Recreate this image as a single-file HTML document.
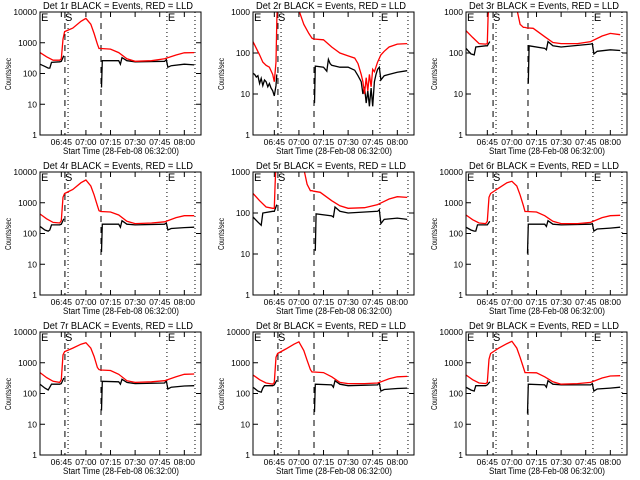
<!DOCTYPE html>
<html><head><meta charset="utf-8"><style>
html,body{margin:0;padding:0;background:#fff;}
svg{display:block;font-family:"Liberation Sans",sans-serif;}
</style></head><body>
<svg id="chart" width="640" height="480" viewBox="0 0 640 480" xmlns="http://www.w3.org/2000/svg"></svg>
<script>
// ---- data (time in minutes after 06:32) ----
const detNames = ["1r","2r","3r","4r","5r","6r","7r","8r","9r"];
const yMaxDecades = [4,3,3,4,3,4,4,4,4];
const xTickMinutes = [13,28,43,58,73,88];
const xTickLabels = ["06:45","07:00","07:15","07:30","07:45","08:00"];
const yTickLabels = ["1","10","100","1000","10000"];

const stdBlackT = [0,3,5,6,7,12,13,14.5,null,37.5,38,48,49,50,53,58,76,77,78,80,88,94];
const stdRedT = [0,4,8,12,13,14,15,20,25,28,31,33,35,36,37,43,48,53,58,68,76,83,88,94];
const midBlackT = [0,3,5,6,12,13,14.5,null,38,38.5,48,49,50,53,58,76,77,78,80,88,94];
const midRedT = [0,4,8,12,13,13.5,14,null,31,33,35,36,37,41,48,53,58,68,76,83,88,94];
const p2BlackT = [0,1,2,3,4,5,6,7,8,9,10,11,12,13,14,14.5,null,37.5,38,43,45,46,47,48,53,58,62,64,66,67,68,69,70,71,72,73,74,75,76,77,78,80,83,88,94];
const p2RedT = [0,2,4,6,8,10,12,13,14,14.5,15,null,28,31,34,36,37,43,48,53,58,62,64,66,67,68,69,70,71,72,73,74,76,78,80,83,88,94];

const p1Black = [200,170,150,150,230,240,250,380,null,35,260,260,200,330,260,240,250,280,160,180,200,190];
const p1Red = [480,350,270,270,300,1300,2300,3000,5000,6200,4000,2000,900,650,650,620,480,300,250,260,300,400,470,480];
const p2Black = [32,30,26,28,18,24,16,22,20,15,18,14,12,9,16,30,null,6,48,45,36,70,55,50,45,45,38,28,20,10,15,6,12,5,14,5,20,30,40,45,22,28,30,34,37];
const p2Red = [190,130,90,60,50,45,30,20,60,600,2000,null,1100,500,300,230,220,210,140,100,85,75,55,30,20,10,25,12,30,15,40,35,60,90,110,140,165,170];
const p3Black = [130,95,90,140,150,150,190,null,18,150,130,120,190,150,140,165,170,95,110,120,115];
const p3Red = [350,240,170,165,170,800,1500,null,1200,500,420,420,410,400,250,180,170,170,190,260,300,280];
const p4Black = [170,130,120,130,190,190,200,300,null,25,200,200,160,260,200,190,200,220,130,145,155,160];
const p4Red = [430,300,230,220,260,1500,2000,2700,4500,5500,3500,1800,800,550,520,500,400,250,210,220,240,330,380,380];
const p5Black = [80,60,50,100,110,110,160,null,12,95,85,80,140,110,100,110,120,55,70,75,70];
const p5Red = [300,200,140,130,130,500,1500,null,1200,500,350,350,340,320,200,150,130,135,160,220,250,240];
const p6Black = [160,130,120,120,190,190,190,250,null,22,200,200,170,260,200,190,200,210,120,140,150,160];
const p6Red = [400,280,220,210,250,1500,2000,3000,4500,5000,3500,1800,800,520,520,500,380,250,210,210,230,330,380,390];
const p7Black = [200,150,130,160,200,200,210,320,null,28,250,240,200,290,230,210,220,260,140,160,175,180];
const p7Red = [480,330,250,230,280,1800,2300,3000,4000,4500,3000,1600,700,600,580,560,420,260,230,240,260,350,420,430];
const p8Black = [160,120,110,150,180,180,190,270,null,25,200,190,160,260,200,180,190,220,120,135,145,150];
const p8Red = [400,280,220,200,230,1500,2000,2800,4000,4800,2500,1200,600,500,500,480,350,230,210,210,220,300,350,360];
const p9Black = [160,130,120,180,180,180,190,240,null,22,200,190,160,260,200,190,190,210,120,140,150,160];
const p9Red = [400,280,220,210,230,1300,2000,3000,4200,5000,3000,1500,700,480,480,470,350,240,200,210,230,320,370,380];

const leftMarks = [15.2,17.1,37.2,77.4,94.5];
const rightMarks = [16.5,18.3,37.8,77.4,95.1];

const blackT = [stdBlackT,p2BlackT,midBlackT,stdBlackT,midBlackT,stdBlackT,stdBlackT,stdBlackT,stdBlackT];
const redT = [stdRedT,p2RedT,midRedT,stdRedT,midRedT,stdRedT,stdRedT,stdRedT,stdRedT];
const blackV = [p1Black,p2Black,p3Black,p4Black,p5Black,p6Black,p7Black,p8Black,p9Black];
const redV = [p1Red,p2Red,p3Red,p4Red,p5Red,p6Red,p7Red,p8Red,p9Red];

const NS = "http://www.w3.org/2000/svg";
const svg = document.getElementById("chart");
function mk(tag, attrs, parent){const e=document.createElementNS(NS,tag);for(const k in attrs)e.setAttribute(k,attrs[k]);(parent||svg).appendChild(e);return e;}

const BX0=40, BX1=201, BY0=12, BY1=135, PXMIN=1.64;
for(let i=0;i<9;i++){
  const col=i%3,row=Math.floor(i/3);
  const ox=col*213+(col===2?0:0), oy=row*160;
  const g=mk("g",{transform:`translate(${ox},${oy})`});
  
  
  const dec=yMaxDecades[i];
  const xs=t=>BX0+t*PXMIN;
  const ys=v=>BY1-(Math.log10(v)/dec)*(BY1-BY0);
  // clip
  const cp=mk("clipPath",{id:"clip"+i},g);
  mk("rect",{x:BX0,y:BY0,width:BX1-BX0,height:BY1-BY0},cp);
  // title
  const tt=mk("text",{x:118,y:9,"text-anchor":"middle","font-size":"10",textLength:150,lengthAdjust:"spacingAndGlyphs"},g);
  tt.textContent="Det "+detNames[i]+" BLACK = Events, RED = LLD";
  
  
  // y ticks
  for(let d=0;d<=dec;d++){
    const y=ys(Math.pow(10,d));
    mk("line",{x1:BX0,x2:BX0+5,y1:y,y2:y,stroke:"#000","stroke-width":1},g);
    mk("line",{x1:BX1-5,x2:BX1,y1:y,y2:y,stroke:"#000","stroke-width":1},g);
    const yl=mk("text",{x:37,y:y+3,"text-anchor":"end","font-size":"8.5"},g);
    yl.textContent=yTickLabels[d];
    
    
  }
  // x ticks
  xTickMinutes.forEach((t,k)=>{
    const x=xs(t);
    mk("line",{x1:x,x2:x,y1:BY1,y2:BY1-5,stroke:"#000","stroke-width":1},g);
    mk("line",{x1:x,x2:x,y1:BY0,y2:BY0+5,stroke:"#000","stroke-width":1},g);
    const xl=mk("text",{x:x,y:145,"text-anchor":"middle","font-size":"8.5"},g);
    xl.textContent=xTickLabels[k];
    
    
  });
  const xt=mk("text",{x:121,y:154,"text-anchor":"middle","font-size":"9",textLength:116,lengthAdjust:"spacingAndGlyphs"},g);
  xt.textContent="Start Time (28-Feb-08 06:32:00)";
  
  
  const yt=mk("text",{x:0,y:0,"text-anchor":"middle","font-size":"8",transform:"translate(11,74) rotate(-90)",textLength:32,lengthAdjust:"spacingAndGlyphs"},g);
  yt.textContent="Counts/sec";
  
  
  // marker lines
  const m=col===2?rightMarks:leftMarks;
  const styles=["6,5","1,3","6,5","1,3","1,3"];
  m.forEach((t,k)=>{
    const l=mk("line",{x1:xs(t),x2:xs(t),y1:BY0,y2:BY1,stroke:"#000","stroke-width":1,"stroke-dasharray":styles[k]},g);
    
    
  });
  // S/E markers
  [[BX0+1,"E"],[xs(m[1])-3,"S"],[xs(m[3])+1,"E"]].forEach(([x,s])=>{
    const e=mk("text",{x:x,y:21,"font-size":"11"},g);
    e.textContent=s;
    
    
  });
  // series
  const cg=mk("g",{"clip-path":`url(#clip${i})`},g);
  function series(T,V,color,name){
    let d="",pen=false;
    for(let k=0;k<T.length;k++){
      if(T[k]===null||V[k]===null){pen=false;continue;}
      const x=xs(T[k]).toFixed(1),y=ys(V[k]).toFixed(1);
      d+=(pen?"L":"M")+x+","+y;pen=true;
    }
    const p=mk("path",{d:d,fill:"none",stroke:color,"stroke-width":1.3},cg);
    
    
  }
  series(blackT[i],blackV[i],"#000","events-series");
  series(redT[i],redV[i],"#ff0000","lld-series");
  // box
  const b=mk("rect",{x:BX0,y:BY0,width:BX1-BX0,height:BY1-BY0,fill:"none",stroke:"#000","stroke-width":1},g);
  
  
}
</script>
</body></html>
